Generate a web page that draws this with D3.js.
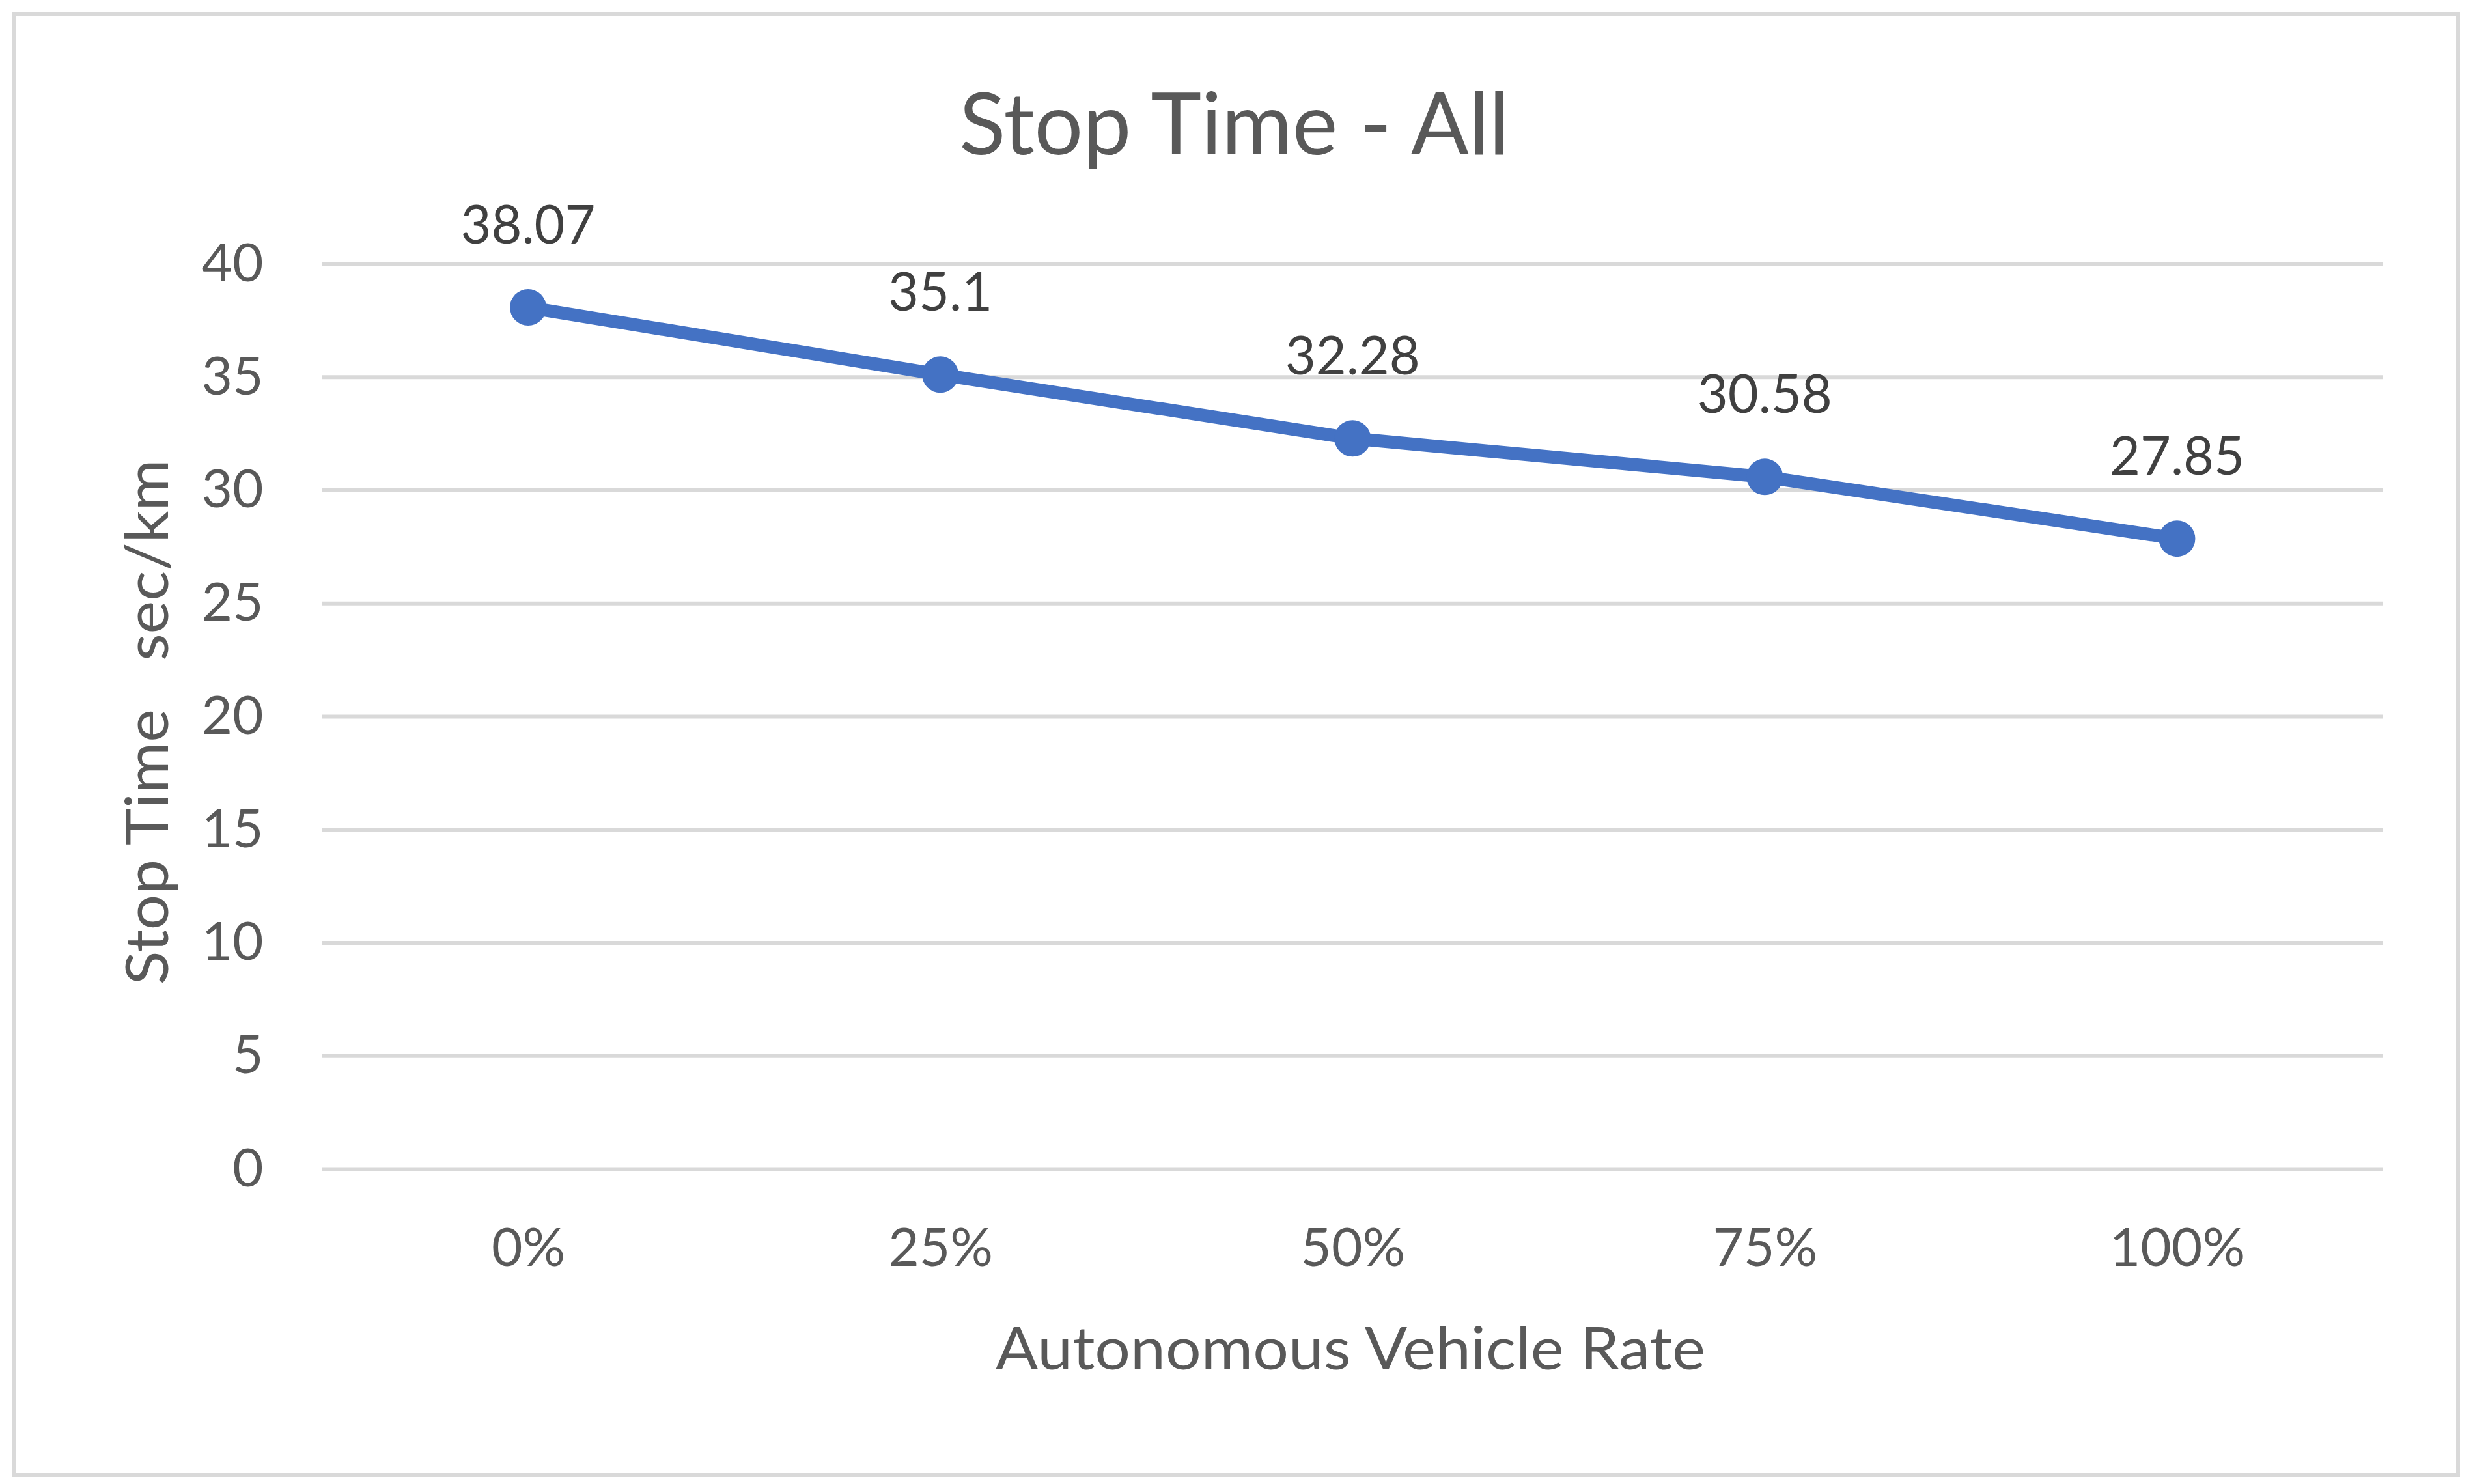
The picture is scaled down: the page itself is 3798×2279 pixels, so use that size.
<!DOCTYPE html>
<html>
<head>
<meta charset="utf-8">
<script src="https://cdn.jsdelivr.net/npm/d3@7"></script>
<style>
  html, body { margin: 0; padding: 0; background: #ffffff; }
  svg { display: block; }
  text { font-family: "Lato", "Open Sans", sans-serif; }
</style>
</head>
<body>
<script>
// ---- data ----
const categories = ["0%", "25%", "50%", "75%", "100%"];
const stopTime = [38.07, 35.1, 32.28, 30.58, 27.85];
const valueLabels = ["38.07", "35.1", "32.28", "30.58", "27.85"];
const yTicks = [0, 5, 10, 15, 20, 25, 30, 35, 40];
const chartTitle = "Stop Time - All";
const xTitle = "Autonomous Vehicle Rate";
const yTitle = "Stop Time   sec/km";

// ---- layout ----
const W = 3798, H = 2279;
const plot = { left: 494.5, right: 3660, top: 405, bottom: 1795 };

const svg = d3.select("body").append("svg")
  .attr("width", W).attr("height", H);

svg.append("rect").attr("x", 0).attr("y", 0).attr("width", W).attr("height", H).attr("fill", "#ffffff");

// chart border
svg.append("rect")
  .attr("x", 22).attr("y", 21)
  .attr("width", 3775 - 22).attr("height", 2265 - 21)
  .attr("fill", "#ffffff")
  .attr("stroke", "#d9d9d9").attr("stroke-width", 6);

const x = d3.scalePoint().domain(categories).range([plot.left, plot.right]).padding(0.5);
const y = d3.scaleLinear().domain([0, 40]).range([plot.bottom, plot.top]);

// y axis with gridlines
const yAxis = svg.append("g")
  .attr("transform", `translate(${plot.left},0)`)
  .call(d3.axisLeft(y).tickValues(yTicks).tickSize(-(plot.right - plot.left)).tickPadding(90).tickFormat(d3.format("d")));
yAxis.select(".domain").remove();
yAxis.selectAll(".tick line").attr("stroke", "#d9d9d9").attr("stroke-width", 6);
yAxis.selectAll(".tick text")
  .attr("fill", "#595959")
  .style("font-size", "82px")
  .style("font-family", "Lato");

// x axis
const xAxis = svg.append("g")
  .attr("transform", `translate(0,${plot.bottom})`)
  .call(d3.axisBottom(x).tickSize(0).tickPadding(91));
xAxis.select(".domain").remove();
xAxis.selectAll(".tick text")
  .attr("fill", "#595959")
  .style("font-size", "82px")
  .style("font-family", "Lato");

// line
const pts = categories.map((c, i) => ({ c, v: stopTime[i], label: valueLabels[i] }));
svg.append("path")
  .datum(pts)
  .attr("fill", "none")
  .attr("stroke", "#4472C4")
  .attr("stroke-width", 20)
  .attr("stroke-linejoin", "round")
  .attr("d", d3.line().x(d => x(d.c)).y(d => y(d.v)));

// markers
svg.selectAll("circle.pt")
  .data(pts).enter().append("circle")
  .attr("class", "pt")
  .attr("cx", d => x(d.c)).attr("cy", d => y(d.v))
  .attr("r", 28)
  .attr("fill", "#4472C4");

// data labels
svg.selectAll("text.dl")
  .data(pts).enter().append("text")
  .attr("class", "dl")
  .attr("x", d => x(d.c))
  .attr("y", d => y(d.v) - 98)
  .attr("text-anchor", "middle")
  .attr("fill", "#404040")
  .style("font-size", "81px")
  .text(d => d.label);

// chart title
svg.append("text")
  .attr("x", 1895.5).attr("y", 237)
  .attr("text-anchor", "middle")
  .attr("fill", "#595959")
  .style("font-size", "131px")
  .attr("textLength", 845).attr("lengthAdjust", "spacingAndGlyphs")
  .text(chartTitle);

// x axis title
svg.append("text")
  .attr("x", 2074).attr("y", 2103)
  .attr("text-anchor", "middle")
  .attr("fill", "#595959")
  .style("font-size", "92px")
  .attr("textLength", 1090).attr("lengthAdjust", "spacingAndGlyphs")
  .text(xTitle);

// y axis title
svg.append("text")
  .attr("transform", `translate(258,${(plot.top + plot.bottom) / 2 + 9}) rotate(-90)`)
  .attr("text-anchor", "middle")
  .attr("fill", "#595959")
  .style("font-size", "92px")
  .style("white-space", "pre")
  .attr("xml:space", "preserve")
  .attr("textLength", 807).attr("lengthAdjust", "spacingAndGlyphs")
  .text(yTitle);
</script>
</body>
</html>
